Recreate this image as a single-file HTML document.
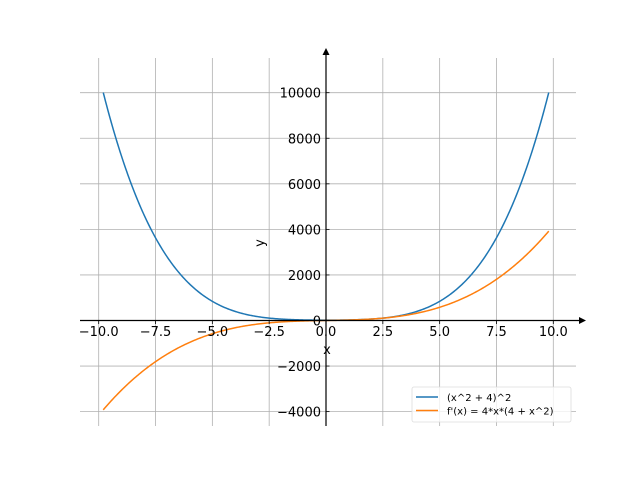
<!DOCTYPE html>
<html><head><meta charset="utf-8"><style>
html,body{margin:0;padding:0;background:#fff;}
svg{display:block;font-family:"DejaVu Sans","Liberation Sans",sans-serif;}
</style></head><body>
<svg id="s" width="640" height="480" viewBox="0 0 640 480" xmlns="http://www.w3.org/2000/svg">
<rect width="640" height="480" fill="#fff"/>
<g id="grid" stroke="#b0b0b0" stroke-width="0.8"></g>
<path id="b" fill="none" stroke="#1f77b4" stroke-width="1.5"/>
<path id="o" fill="none" stroke="#ff7f0e" stroke-width="1.5"/>
<g stroke="#000" stroke-width="1.2">
<line x1="80" y1="320.5" x2="582" y2="320.5"/>
<line x1="326" y1="426" x2="326" y2="54"/>
</g>
<polygon points="586,320.5 579,317 579,324" fill="#000"/>
<polygon points="326,48 322.5,55 329.5,55" fill="#000"/>
<g id="ticks" stroke="#000" stroke-width="0.8"></g>
<g id="lbl" font-size="13" fill="#000"></g>
<text x="327" y="354" font-size="13" text-anchor="middle">x</text>
<text x="0" y="0" font-size="13" text-anchor="middle" transform="translate(264,243) rotate(-90)">y</text>
<rect x="412" y="387" width="159" height="35" rx="2" fill="#fff" fill-opacity="0.8" stroke="#ddd" stroke-width="0.8"/>
<line x1="416" y1="397" x2="438" y2="397" stroke="#1f77b4" stroke-width="1.5"/>
<line x1="416" y1="410.5" x2="438" y2="410.5" stroke="#ff7f0e" stroke-width="1.5"/>
<text x="447" y="401" font-size="10">(x^2 + 4)^2</text>
<text x="447" y="414.5" font-size="10">f'(x) = 4*x*(4 + x^2)</text>
</svg>
<script>
var X=function(x){return 326+x*22.73;},Y=function(y){return 320.5-y*0.02278;};
var ns="http://www.w3.org/2000/svg";
function el(p,t,a,txt){var e=document.createElementNS(ns,t);for(var k in a)e.setAttribute(k,a[k]);if(txt!==undefined)e.textContent=txt;document.getElementById(p).appendChild(e);}
for(var i=-4;i<=4;i++){var x=X(i*2.5);el("grid","line",{x1:x,y1:58,x2:x,y2:426});
el("ticks","line",{x1:x,y1:320.5,x2:x,y2:324});
el("lbl","text",{x:x,y:336,"text-anchor":"middle"},(i*2.5).toFixed(1).replace("-","\u2212"));}
for(var j=-2;j<=5;j++){var y=Y(j*2000);el("grid","line",{x1:80,y1:y,x2:576,y2:y});
el("ticks","line",{x1:326,y1:y,x2:329.5,y2:y});
el("lbl","text",{x:321,y:y+5,"text-anchor":"end"},(j<0?"\u2212":"")+Math.abs(j*2000));}
var b="",o="";for(var k=0;k<=400;k++){var x=-9.8+19.6*k/400;var f=Math.pow(x*x+4,2),g=4*x*(4+x*x);
b+=(k?"L":"M")+X(x).toFixed(2)+","+Y(f).toFixed(2);o+=(k?"L":"M")+X(x).toFixed(2)+","+Y(g).toFixed(2);}
document.getElementById("b").setAttribute("d",b);document.getElementById("o").setAttribute("d",o);
</script>
</body></html>
